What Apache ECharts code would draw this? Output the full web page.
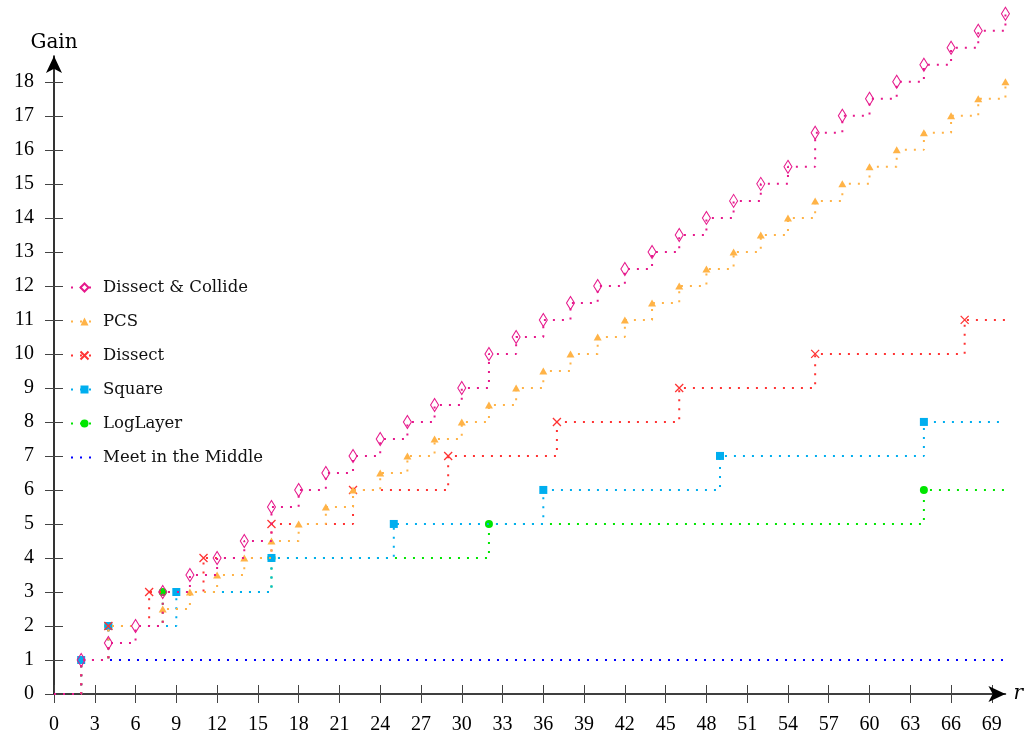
<!DOCTYPE html>
<html><head><meta charset="utf-8">
<script src="https://cdn.jsdelivr.net/npm/echarts@6/dist/echarts.min.js"></script>
<style>html,body{margin:0;padding:0;background:#fff}#c{width:1026px;height:736px}</style>
</head><body><div id="c"></div>
<script>
// tick labels
const xTicks = [0,3,6,9,12,15,18,21,24,27,30,33,36,39,42,45,48,51,54,57,60,63,66,69];
const yTicks = [0,1,2,3,4,5,6,7,8,9,10,11,12,13,14,15,16,17,18];

// series names
const names = ['Dissect & Collide','PCS','Dissect','Square','LogLayer','Meet in the Middle'];

// Dissect & Collide
const dcX = [0,2,4,6,8,10,12,14,16,18,20,22,24,26,28,30,32,34,36,38,40,42,44,46,48,50,52,54,56,58,60,62,64,66,68,70];
const dcY = [0,1,1.5,2,3,3.5,4,4.5,5.5,6,6.5,7,7.5,8,8.5,9,10,10.5,11,11.5,12,12.5,13,13.5,14,14.5,15,15.5,16.5,17,17.5,18,18.5,19,19.5,20];
const dcBare = [0];
// PCS
const pcsX = [0,2,4,8,10,12,14,16,18,20,22,24,26,28,30,32,34,36,38,40,42,44,46,48,50,52,54,56,58,60,62,64,66,68,70];
const pcsY = [0,1,2,2.5,3,3.5,4,4.5,5,5.5,6,6.5,7,7.5,8,8.5,9,9.5,10,10.5,11,11.5,12,12.5,13,13.5,14,14.5,15,15.5,16,16.5,17,17.5,18];
const pcsBare = [0,2,4];
// Dissect
const disX = [0,2,4,7,11,16,22,29,37,46,56,67,70];
const disY = [0,1,2,3,4,5,6,7,8,9,10,11,11];
const disBare = [0,2,70];
// Square
const sqX = [0,2,4,9,16,25,36,49,64,70];
const sqY = [0,1,2,3,4,5,6,7,8,8];
const sqBare = [0,70];
// LogLayer
const llX = [0,2,4,8,16,32,64,70];
const llY = [0,1,2,3,4,5,6,6];
const llBare = [0,70];
// Meet in the Middle
const mmX = [0,2,70];
const mmY = [0,1,1];

function build(xs, ys, bare){
  return xs.map((x,i)=> bare && bare.indexOf(x) >= 0 ? {value:[x,ys[i]], symbol:'none'} : {value:[x,ys[i]]});
}

const C = {dc:'#e6198c', pcs:'#ffb347', dis:'#ff3333', sq:'#00aeef', ll:'#00e600', mm:'#0000ff'};
const dot = {width:2, type:[2,7], cap:'butt'};

function ser(name, data, color, symbol, size, itemStyle, z){
  return {
    name, type:'line', step:'end', data, clip:false, z,
    symbol, symbolSize:size, showSymbol:true,
    lineStyle:Object.assign({color}, dot),
    itemStyle, emphasis:{disabled:true}, silent:true
  };
}

const serif = 'DejaVu Serif';
const numFont = 'Liberation Serif';

const option = {
  backgroundColor:'#fff',
  animation:false,
  grid:{left:54, right:19, top:56, bottom:42, containLabel:false},
  legend:{
    orient:'vertical', left:70, top:279, padding:0,
    itemWidth:27, itemHeight:10, itemGap:17,
    selectedMode:false,
    data:names,
    textStyle:{fontFamily:serif, fontSize:16.5, color:'#111'}
  },
  xAxis:[{
    type:'value', min:0, max:70, position:'bottom',
    name:'r', nameLocation:'end', nameGap:8,
    nameTextStyle:{fontFamily:serif, fontStyle:'italic', fontSize:20, color:'#000', verticalAlign:'middle'},
    axisLine:{show:true, onZero:false, lineStyle:{color:'#000', width:1.6}, symbol:['none','arrow'], symbolSize:[12,17], symbolOffset:[0,0]},
    axisTick:{show:true, length:9, customValues:xTicks, lineStyle:{color:'#444', width:1}},
    axisLabel:{customValues:xTicks, margin:21, fontFamily:numFont, fontSize:20, color:'#000'},
    splitLine:{show:false}
  },{
    type:'value', min:0, max:70, position:'bottom',
    axisLine:{show:false},
    axisTick:{show:true, inside:true, length:9, customValues:xTicks, lineStyle:{color:'#444', width:1}},
    axisLabel:{show:false}, splitLine:{show:false}
  }],
  yAxis:[{
    type:'value', min:0, max:18.76, position:'left',
    name:'Gain', nameLocation:'end', nameGap:3,
    nameTextStyle:{fontFamily:serif, fontSize:20, color:'#000', align:'center'},
    axisLine:{show:true, onZero:false, lineStyle:{color:'#000', width:1.6}, symbol:['none','arrow'], symbolSize:[12,17], symbolOffset:[0,0]},
    axisTick:{show:true, length:9, customValues:yTicks, lineStyle:{color:'#444', width:1}},
    axisLabel:{customValues:yTicks, margin:20, fontFamily:numFont, fontSize:20, color:'#000'},
    splitLine:{show:false}
  },{
    type:'value', min:0, max:18.76, position:'left',
    axisLine:{show:false},
    axisTick:{show:true, inside:true, length:9, customValues:yTicks, lineStyle:{color:'#444', width:1}},
    axisLabel:{show:false}, splitLine:{show:false}
  }],
  series:[
    ser(names[5], build(mmX, mmY, mmX), C.mm, 'circle', 0, {color:'rgba(0,0,0,0)'}, 1),
    ser(names[4], build(llX, llY, llBare), C.ll, 'circle', 8, {color:C.ll}, 2),
    ser(names[3], build(sqX, sqY, sqBare), C.sq, 'rect', 8, {color:C.sq}, 3),
    ser(names[2], build(disX, disY, disBare), C.dis, 'path://M0,0L10,10M10,0L0,10', 8, {color:'rgba(0,0,0,0)', borderColor:C.dis, borderWidth:1.3}, 4),
    ser(names[1], build(pcsX, pcsY, pcsBare), C.pcs, 'triangle', [8,7], {color:C.pcs}, 5),
    ser(names[0], build(dcX, dcY, dcBare), C.dc, 'diamond', [8,13], {color:'rgba(255,255,255,0)', borderColor:C.dc, borderWidth:1.1}, 6)
  ]
};

const chart = echarts.init(document.getElementById('c'), null, {renderer:'canvas'});
chart.setOption(option);
</script>
</body></html>
